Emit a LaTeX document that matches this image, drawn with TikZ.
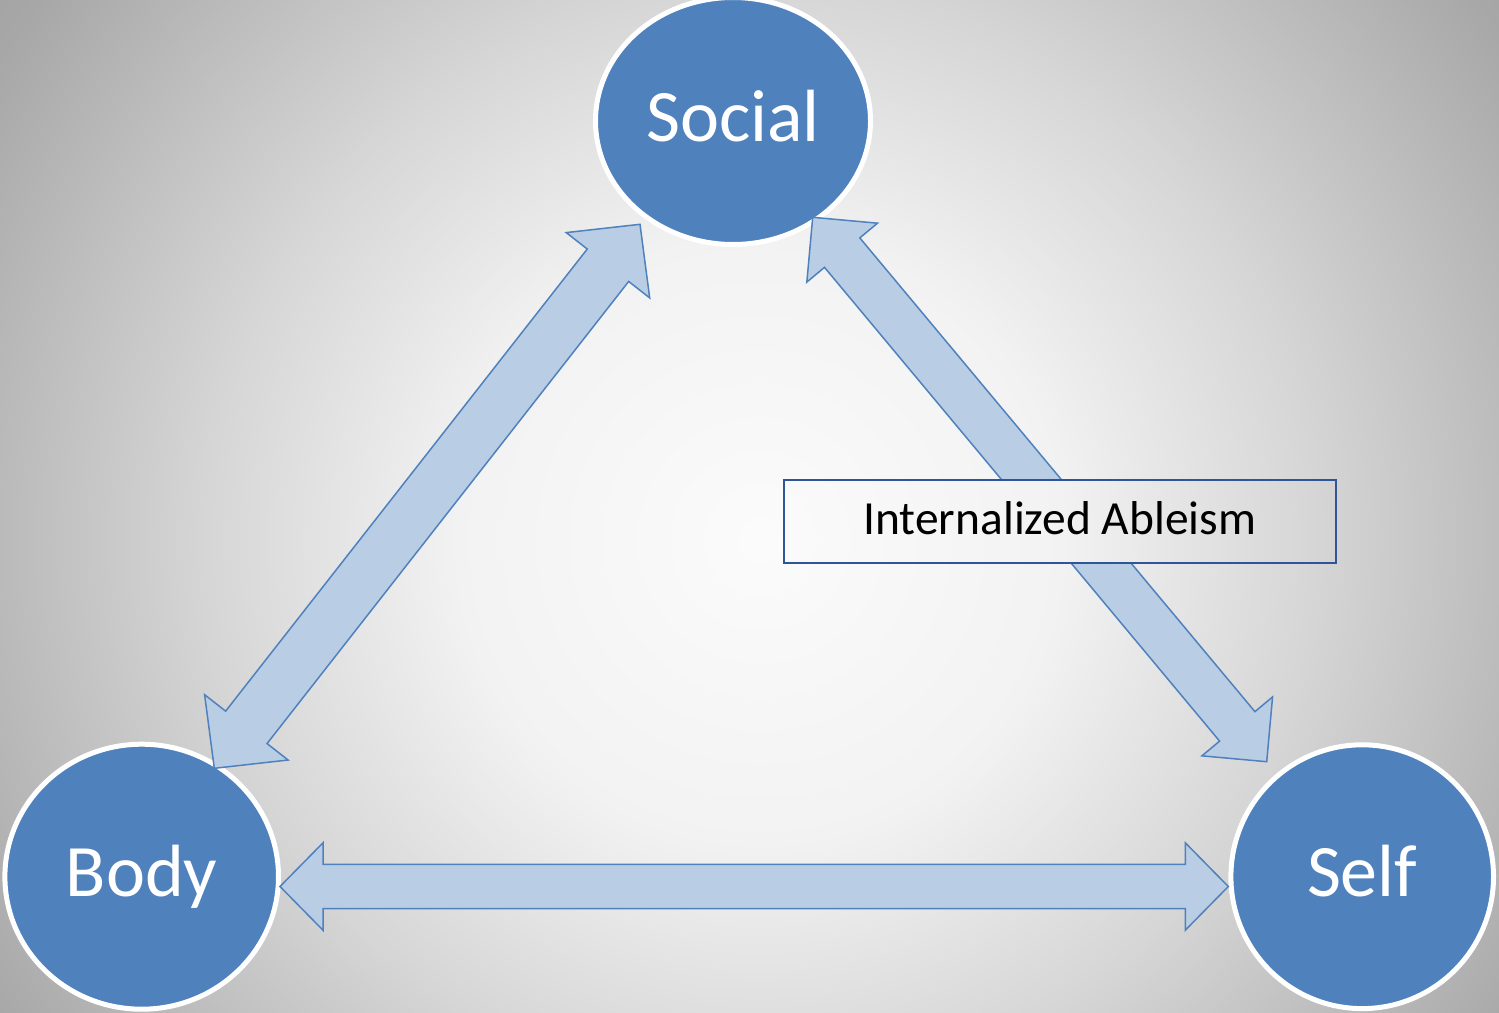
\documentclass[tikz,border=0pt]{standalone}
\usepackage{fontspec}
\setmainfont{Carlito}
\usetikzlibrary{calc,shapes.geometric}
\definecolor{circblue}{HTML}{4F81BD}
\definecolor{arrowfill}{HTML}{B9CDE5}
\definecolor{boxline}{HTML}{2F5597}
\definecolor{bgA}{gray}{0.985}
\definecolor{bgB}{gray}{0.95}
\definecolor{bgC}{gray}{0.84}
\definecolor{bgD}{gray}{0.655}
\definecolor{bgE}{gray}{0.63}
\pgfdeclareradialshading{bgradial}{\pgfpoint{0bp}{0bp}}{color(0bp)=(bgA); color(7.5bp)=(bgB); color(13.75bp)=(bgC); color(22.5bp)=(bgD); color(25bp)=(bgE); color(50bp)=(bgE)}
\newcommand\bgshade{\shade[shading=bgradial] (-240,-460) rectangle (1760,1540);}
\newcommand\blockarrow[5]{%
  \filldraw[blockarrowstyle] (#1)
    -- ($(#1)!#3!(#2)!#4!90:(#2)$)
    -- ($(#1)!#3!(#2)!#5!90:(#2)$)
    -- ($(#2)!#3!(#1)!#5!-90:(#1)$)
    -- ($(#2)!#3!(#1)!#4!-90:(#1)$)
    -- (#2)
    -- ($(#2)!#3!(#1)!#4!90:(#1)$)
    -- ($(#2)!#3!(#1)!#5!90:(#1)$)
    -- ($(#1)!#3!(#2)!#5!-90:(#2)$)
    -- ($(#1)!#3!(#2)!#4!-90:(#2)$)
    -- cycle;}
\tikzset{
  circnode/.style={ellipse, fill=circblue, draw=white, line width=5pt, inner sep=0pt,
    text=white, font=\fontsize{74}{80}\selectfont, text height=55pt, text depth=15pt},
  blockarrowstyle/.style={fill=arrowfill, draw=circblue, line width=1.5pt, line join=miter},
  labelbox/.style={rectangle, draw=boxline, line width=2pt, inner sep=0pt, text=black,
    font=\fontsize{47.5}{52}\selectfont, text height=35pt, text depth=7.8pt}
}
\begin{document}
\begin{tikzpicture}[x=1pt,y=-1pt]
  \useasboundingbox (0,0) rectangle (1499,1012);
  \begin{scope}
    \clip (0,0) rectangle (1499,1012);
    \bgshade
  \end{scope}

  % circles
  \node[circnode, minimum width=275pt, minimum height=247pt] (social) at (733,121) {Social};
  \node[circnode, minimum width=273.6pt, minimum height=265pt] (body) at (141.7,876.7) {Body};
  \node[circnode, minimum width=262.6pt, minimum height=263.8pt] (self) at (1362.2,876.7) {Self};

  % arrow tips
  \coordinate (lA) at (214.3,768.3);
  \coordinate (lB) at (640,224.3);
  \coordinate (rA) at (812.7,217.3);
  \coordinate (rB) at (1266.7,761.7);
  \coordinate (hA) at (280,886.5);
  \coordinate (hB) at (1228.3,886.5);

  \blockarrow{lA}{lB}{52pt}{53pt}{26.3pt}
  \blockarrow{rA}{rB}{46pt}{46pt}{23pt}
  \blockarrow{hA}{hB}{43pt}{43.7pt}{22.2pt}

  % label box
  \coordinate (iaNW) at (784,480);
  \coordinate (iaSE) at (1335.7,562.7);
  \begin{scope}
    \clip (iaNW) rectangle (iaSE);
    \bgshade
  \end{scope}
  \node[labelbox, minimum width=551.7pt, minimum height=82.7pt] (ia) at ($(iaNW)!0.5!(iaSE)$) {Internalized Ableism};
\end{tikzpicture}
\end{document}
